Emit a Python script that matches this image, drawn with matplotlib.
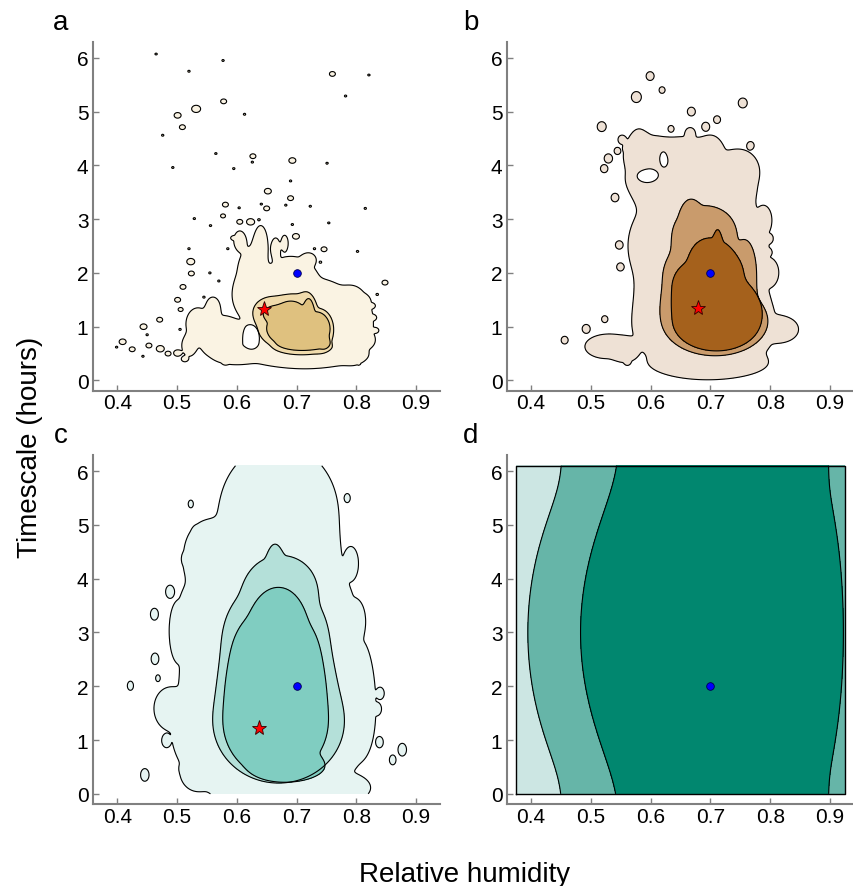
import numpy as np
import matplotlib
matplotlib.use("Agg")
import matplotlib.pyplot as plt

plt.rcParams["font.family"] = ["Liberation Sans", "DejaVu Sans"]

# ---- Density grid (relative humidity x timescale) --------------------------
x_grid = np.linspace(0.375, 0.925, 441)
y_grid = np.linspace(0.0, 6.1, 489)

x_ticks = [0.4, 0.5, 0.6, 0.7, 0.8, 0.9]
x_tick_labels = ["0.4", "0.5", "0.6", "0.7", "0.8", "0.9"]
y_ticks = [0, 1, 2, 3, 4, 5, 6]
y_tick_labels = ["0", "1", "2", "3", "4", "5", "6"]

# ---- Region outlines: ellipses (centre x, centre y, half-width, half-height)
# panel a
a_outer = [(0.715, 1.10, 0.098, 0.83), (0.710, 0.45, 0.090, 0.17),
           (0.797, 1.00, 0.026, 0.62), (0.750, 1.45, 0.040, 0.20),
           (0.690, 2.00, 0.035, 0.30), (0.625, 1.90, 0.025, 0.60),
           (0.612, 1.60, 0.018, 0.30), (0.640, 2.50, 0.012, 0.38),
           (0.665, 2.45, 0.008, 0.20), (0.680, 2.55, 0.006, 0.15),
           (0.570, 0.80, 0.035, 0.40), (0.535, 1.05, 0.020, 0.30),
           (0.560, 1.35, 0.012, 0.20), (0.600, 0.45, 0.030, 0.15),
           (0.820, 0.75, 0.010, 0.12), (0.812, 1.45, 0.010, 0.12),
           (0.720, 2.25, 0.012, 0.12), (0.605, 2.60, 0.010, 0.18),
           (0.520, 0.65, 0.012, 0.20)]
a_holes = [(0.624, 0.80, 0.010, 0.17)]
a_middle = [(0.695, 1.00, 0.060, 0.45), (0.660, 1.30, 0.030, 0.25),
            (0.695, 1.45, 0.025, 0.15), (0.716, 1.35, 0.014, 0.29),
            (0.742, 0.90, 0.016, 0.32), (0.715, 0.62, 0.040, 0.12)]
a_inner = [(0.700, 0.97, 0.050, 0.36), (0.668, 1.25, 0.022, 0.14),
           (0.690, 1.33, 0.018, 0.14), (0.720, 1.30, 0.008, 0.22),
           (0.737, 0.95, 0.015, 0.25), (0.746, 0.72, 0.008, 0.12),
           (0.715, 0.68, 0.035, 0.10)]
# isolated outer-level blobs: (x, y, radius in px)
a_islands = [
    (0.465, 6.07, 1.2), (0.520, 5.75, 1.2), (0.577, 5.95, 1.2), (0.760, 5.70, 3),
    (0.821, 5.68, 1.2), (0.782, 5.29, 1.2), (0.532, 5.05, 4.5), (0.578, 5.19, 3),
    (0.501, 4.93, 3.5), (0.509, 4.71, 3), (0.613, 4.95, 1.2), (0.476, 4.56, 1.2),
    (0.565, 4.22, 1.2), (0.627, 4.17, 3), (0.626, 4.06, 1.2), (0.693, 4.09, 3.5),
    (0.751, 4.04, 1.2), (0.493, 3.96, 1.2), (0.595, 3.94, 1.2), (0.690, 3.71, 1.2),
    (0.652, 3.52, 3.5), (0.690, 3.39, 3), (0.581, 3.27, 3), (0.604, 3.21, 1.2),
    (0.641, 3.28, 1.2), (0.650, 3.20, 3), (0.682, 3.26, 1.2), (0.723, 3.24, 1.2),
    (0.815, 3.20, 1.2), (0.529, 3.01, 1.2), (0.577, 3.06, 2.5), (0.605, 2.95, 3),
    (0.623, 2.95, 4), (0.637, 2.99, 1.2), (0.556, 2.88, 1.2), (0.754, 2.93, 1.2),
    (0.693, 2.90, 1.2), (0.699, 2.68, 3.5), (0.594, 2.65, 2.5), (0.746, 2.44, 3),
    (0.802, 2.40, 1.2), (0.523, 2.21, 4), (0.524, 1.99, 3), (0.510, 1.74, 3),
    (0.848, 1.82, 3), (0.501, 1.50, 3), (0.506, 1.32, 2.5), (0.471, 1.13, 3),
    (0.444, 1.00, 3.5), (0.409, 0.72, 3.5), (0.399, 0.62, 1.2), (0.425, 0.58, 3),
    (0.453, 0.65, 3), (0.472, 0.59, 4), (0.485, 0.50, 3), (0.501, 0.51, 4),
    (0.513, 0.40, 3.5), (0.443, 0.45, 1.2), (0.581, 0.34, 3), (0.794, 1.67, 3),
    (0.826, 1.39, 3), (0.828, 1.17, 3), (0.832, 0.93, 3), (0.804, 0.56, 3),
    (0.804, 0.31, 1.2), (0.768, 0.87, 1.2), (0.835, 1.60, 1.2), (0.545, 1.55, 1.2),
    (0.570, 1.85, 1.2), (0.585, 2.45, 1.2), (0.730, 2.45, 1.2), (0.740, 2.20, 1.2),
    (0.450, 0.85, 1.2), (0.790, 0.80, 1.2), (0.812, 0.65, 1.2), (0.505, 0.95, 1.2),
    (0.520, 2.45, 1.2), (0.555, 2.00, 1.2)]

# panel b
b_outer = [(0.690, 1.00, 0.120, 0.90), (0.680, 2.50, 0.118, 1.20),
           (0.665, 3.80, 0.105, 0.55), (0.600, 4.25, 0.040, 0.30),
           (0.580, 4.25, 0.018, 0.42), (0.660, 4.30, 0.040, 0.22),
           (0.700, 4.30, 0.018, 0.25), (0.750, 3.95, 0.025, 0.30),
           (0.820, 0.95, 0.025, 0.20), (0.700, 0.30, 0.080, 0.22),
           (0.525, 0.63, 0.035, 0.22), (0.555, 0.55, 0.020, 0.20),
           (0.800, 2.00, 0.012, 0.20), (0.790, 3.00, 0.010, 0.20)]
b_holes = [(0.622, 4.13, 0.008, 0.16), (0.595, 3.82, 0.016, 0.12)]
b_middle = [(0.708, 1.10, 0.088, 0.64), (0.690, 1.90, 0.070, 0.80),
            (0.690, 2.80, 0.050, 0.45), (0.667, 3.05, 0.015, 0.30),
            (0.760, 2.00, 0.015, 0.55)]
b_inner = [(0.710, 1.10, 0.073, 0.55), (0.693, 1.75, 0.057, 0.55),
           (0.700, 2.35, 0.030, 0.30), (0.712, 2.50, 0.007, 0.30),
           (0.742, 1.40, 0.035, 0.40), (0.726, 2.00, 0.025, 0.40)]
b_islands = [
    (0.599, 5.66, 4), (0.619, 5.40, 3), (0.576, 5.27, 5), (0.754, 5.16, 4.5),
    (0.668, 5.00, 4), (0.711, 4.85, 3.5), (0.692, 4.72, 4), (0.666, 4.60, 5),
    (0.634, 4.68, 3), (0.518, 4.72, 4.5), (0.552, 4.48, 4), (0.561, 4.33, 4),
    (0.529, 4.13, 4), (0.522, 3.94, 3.5), (0.544, 4.27, 3), (0.767, 4.37, 3.5),
    (0.747, 3.88, 1.5), (0.540, 3.40, 3.5), (0.547, 2.52, 3), (0.549, 2.11, 3),
    (0.523, 1.14, 3), (0.492, 0.96, 4), (0.456, 0.75, 3.5), (0.797, 2.64, 3.5),
    (0.796, 2.38, 3), (0.561, 0.35, 3), (0.600, 0.75, 1.5), (0.608, 0.40, 1.2),
    (0.575, 2.30, 1.5)]

# panel c
c_outer = [(0.655, 1.20, 0.165, 1.50), (0.650, 3.30, 0.150, 1.40),
           (0.670, 5.20, 0.100, 1.30), (0.545, 4.50, 0.030, 0.50),
           (0.485, 1.60, 0.020, 0.30), (0.810, 1.80, 0.018, 0.80),
           (0.532, 0.38, 0.020, 0.25), (0.790, 0.10, 0.030, 0.20),
           (0.500, 3.00, 0.010, 0.40), (0.528, 4.30, 0.012, 0.20),
           (0.800, 3.20, 0.012, 0.30), (0.792, 4.30, 0.010, 0.25)]
c_middle = [(0.670, 1.35, 0.110, 1.15), (0.665, 2.80, 0.090, 1.20),
            (0.675, 3.90, 0.050, 0.50), (0.664, 4.30, 0.012, 0.33)]
c_inner = [(0.665, 1.35, 0.088, 1.05), (0.665, 2.50, 0.075, 1.00),
           (0.670, 3.30, 0.035, 0.50), (0.690, 0.50, 0.050, 0.22)]
c_islands = [
    (0.523, 5.39, 2.5), (0.586, 4.91, 1.5), (0.533, 4.84, 4), (0.561, 4.56, 3),
    (0.516, 4.37, 4), (0.488, 3.76, 3.5), (0.462, 3.34, 3.5), (0.463, 2.51, 3.5),
    (0.468, 2.15, 2), (0.422, 2.01, 3), (0.446, 0.35, 4), (0.482, 0.99, 3.5),
    (0.512, 0.46, 3.5), (0.785, 5.50, 2.5), (0.804, 3.08, 3), (0.840, 1.87, 3.5),
    (0.835, 1.58, 3.5), (0.839, 0.96, 3), (0.877, 0.82, 4), (0.861, 0.63, 3)]

# panel d
d_outer = [(0.650, 3.05, 1.000, 20.0)]
d_middle = [(0.720, 3.05, 0.270, 30.0), (0.500, 3.00, 0.090, 2.0)]
d_inner = [(0.722, 3.05, 0.176, 40.0), (0.600, 3.00, 0.110, 2.2),
           (0.885, 3.00, 0.030, 1.8)]

# ---- Reference points ------------------------------------------------------
dot_x, dot_y = 0.70, 2.0
star_a = (0.645, 1.32)
star_b = (0.679, 1.35)
star_c = (0.637, 1.23)

# ---- Colours ---------------------------------------------------------------
cols_a = ["#FAF3E3", "#F0DBAC", "#DFC17F"]
cols_b = ["#EEE1D5", "#C99B6C", "#A5611C"]
cols_c = ["#E6F4F2", "#B4E0D9", "#80CDC1"]
cols_d = ["#CCE6E3", "#66B5A8", "#01876F"]

X, Y = np.meshgrid(x_grid, y_grid)


def blob_sum(blobs):
    f = np.zeros_like(X)
    for cx, cy, hx, hy in blobs:
        rho2 = ((X - cx) / hx) ** 2 + ((Y - cy) / hy) ** 2
        f += np.exp(-np.log(2) * rho2 ** 2)
    return f


def island_blobs(islands, aspect):
    return [(x, y, r / 600.0, aspect * r / 54.0) for x, y, r in islands]


def draw_panel(ax, regions, colours, holes=(), star=None):
    for i, (blobs, col) in enumerate(zip(regions, colours)):
        f = blob_sum(blobs)
        if i == 0 and holes:
            f -= 2.0 * blob_sum(holes)
        ax.contourf(X, Y, f, levels=[0.5, 1e9], colors=[col])
        if f.min() < 0.5:
            ax.contour(X, Y, f, levels=[0.5], colors="k", linewidths=0.8)
    if star is not None:
        ax.plot(*star, "*", ms=11, mfc="#FF0000", mec="#300000", mew=0.6,
                zorder=5)


fig = plt.figure(figsize=(8.54, 8.87), dpi=100)
w, h = 0.4059, 0.3935
ax_a = fig.add_axes([0.1093, 0.5584, w, h])
ax_b = fig.add_axes([0.5940, 0.5584, w, h])
ax_c = fig.add_axes([0.1093, 0.0924, w, h])
ax_d = fig.add_axes([0.5940, 0.0924, w, h])

draw_panel(ax_a, [a_outer + island_blobs(a_islands, 0.8), a_middle, a_inner],
           cols_a, a_holes, star_a)
draw_panel(ax_b, [b_outer + island_blobs(b_islands, 1.1), b_middle, b_inner],
           cols_b, b_holes, star_b)
draw_panel(ax_c, [c_outer + island_blobs(c_islands, 1.5), c_middle, c_inner],
           cols_c, star=star_c)
draw_panel(ax_d, [d_outer, d_middle, d_inner], cols_d)
# box round the fully covered grid in d
ax_d.plot([x_grid[0], x_grid[-1], x_grid[-1], x_grid[0], x_grid[0]],
          [y_grid[0], y_grid[0], y_grid[-1], y_grid[-1], y_grid[0]],
          color="k", lw=1.0)

letter_pos = [(0.0714, 0.9662), (0.5515, 0.9662),
              (0.0714, 0.5006), (0.5515, 0.5006)]
for ax, letter, (lx, ly) in zip([ax_a, ax_b, ax_c, ax_d], "abcd", letter_pos):
    ax.plot(dot_x, dot_y, "o", ms=5.5, mfc="#0000FF", mec="#000050",
            mew=0.6, zorder=5)
    ax.set_xlim(0.36, 0.94)
    ax.set_ylim(-0.19, 6.3)
    ax.set_xticks(x_ticks)
    ax.set_xticklabels(x_tick_labels)
    ax.set_yticks(y_ticks)
    ax.set_yticklabels(y_tick_labels)
    for s in ("top", "right"):
        ax.spines[s].set_visible(False)
    for s in ("left", "bottom"):
        ax.spines[s].set_color("#808080")
        ax.spines[s].set_linewidth(1.5)
    ax.tick_params(direction="in", length=4, width=1, color="#808080",
                   labelsize=15)
    ax.tick_params(axis="x", pad=2)
    ax.tick_params(axis="y", pad=3.5)
    fig.text(lx, ly, letter, fontsize=20, ha="center", va="baseline")

fig.text(0.035, 0.496, "Timescale (hours)", fontsize=20, rotation=90,
         ha="center", va="center")
fig.text(0.5445, 0.0056, "Relative humidity", fontsize=20,
         ha="center", va="baseline")

fig.savefig("out.png", dpi=100, facecolor="white")
